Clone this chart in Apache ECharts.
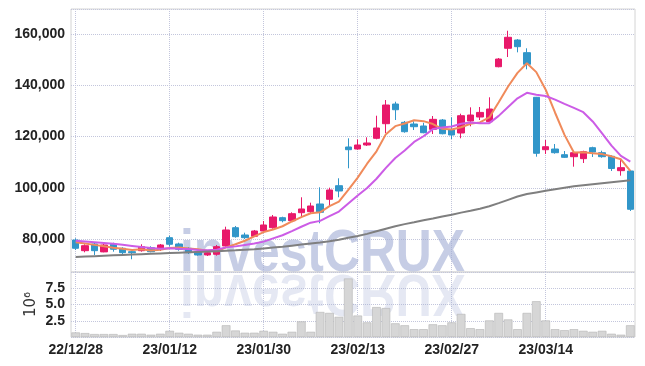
<!DOCTYPE html>
<html>
<head>
<meta charset="utf-8">
<script src="https://cdn.jsdelivr.net/npm/echarts@6/dist/echarts.min.js"></script>
<style>
  html, body { margin: 0; padding: 0; background: #fff; }
  #chart { width: 645px; height: 366px; }
</style>
</head>
<body>
<div id="chart"></div>
<script>
const dates = [
  "22/12/28", "22/12/29", "23/01/02", "23/01/03", "23/01/04", "23/01/05", "23/01/06", "23/01/09", "23/01/10", "23/01/11",
  "23/01/12", "23/01/13", "23/01/16", "23/01/17", "23/01/18", "23/01/19", "23/01/20", "23/01/25", "23/01/26", "23/01/27",
  "23/01/30", "23/01/31", "23/02/01", "23/02/02", "23/02/03", "23/02/06", "23/02/07", "23/02/08", "23/02/09", "23/02/10",
  "23/02/13", "23/02/14", "23/02/15", "23/02/16", "23/02/17", "23/02/20", "23/02/21", "23/02/22", "23/02/23", "23/02/24",
  "23/02/27", "23/02/28", "23/03/02", "23/03/03", "23/03/06", "23/03/07", "23/03/08", "23/03/09", "23/03/10", "23/03/13",
  "23/03/14", "23/03/15", "23/03/16", "23/03/17", "23/03/20", "23/03/21", "23/03/22", "23/03/23", "23/03/24", "23/03/27"
];

const opens = [
  79600, 75430, 78050, 74960, 77930, 76370, 75040, 75430, 76600, 75980,
  80510, 78050, 76370, 75040, 73750, 74020, 77270, 84410, 81560, 81050,
  83120, 84410, 88320, 87150, 90270, 90660, 93670, 95510, 100820, 115940,
  115150, 116720, 119330, 125040, 132730, 125580, 124920, 124140, 122830, 126480,
  122570, 121400, 126090, 127650, 125820, 147300, 154500, 157730, 152790, 135350,
  114880, 115150, 112930, 112150, 111380, 115670, 113710, 112300, 106690, 106560
];
const closes = [
  76370, 77380, 75430, 77660, 75980, 74650, 74650, 77000, 75040, 77660,
  77930, 75980, 74650, 73750, 74650, 77000, 83520, 80900, 80510, 83120,
  85470, 88590, 87150, 89880, 91720, 92890, 90420, 99140, 98750, 114880,
  116720, 117500, 123360, 132340, 130500, 121910, 123860, 121520, 126740, 121130,
  120620, 128160, 128430, 129450, 130780, 150300, 158800, 155130, 148230, 113480,
  116050, 113710, 111900, 113710, 114100, 113950, 112150, 107540, 107860, 91600
];
const lows = [
  75700, 74800, 73750, 74800, 75040, 74020, 72070, 75040, 74800, 75310,
  77000, 75430, 74140, 73480, 73350, 73480, 77000, 80510, 80000, 80900,
  82860, 84020, 86520, 86640, 88480, 89770, 86130, 92620, 96290, 107620,
  114880, 116330, 118940, 121400, 126480, 121520, 122570, 121290, 121010, 120880,
  119060, 119330, 124020, 126480, 124920, 147070, 151090, 152920, 146280, 112150,
  113200, 113330, 111640, 108250, 109690, 112030, 111760, 106560, 104730, 90940
];
const highs = [
  80270, 77930, 78550, 78700, 78550, 76760, 75310, 77930, 77150, 78050,
  81290, 78550, 76760, 75310, 75040, 77660, 84800, 85080, 82460, 83520,
  87030, 89370, 88700, 90420, 96290, 94180, 100190, 100040, 103710, 119330,
  118940, 119720, 128160, 134290, 133630, 126090, 125970, 125400, 128040, 126870,
  127530, 128950, 131440, 131560, 135350, 150700, 161360, 158100, 154500, 135500,
  118670, 117100, 114370, 114490, 114490, 116050, 114490, 112690, 110980, 106950
];

const ma5 = [
  78700, 78200, 77700, 77200, 76560, 76220, 75670, 75990, 75460, 75800,
  76460, 76720, 76250, 75990, 75390, 75210, 76710, 77960, 79320, 81010,
  82700, 83720, 84970, 86840, 88560, 90050, 90410, 92810, 94580, 99220,
  103980, 109400, 114240, 120960, 124080, 125120, 126390, 126030, 124910, 123030,
  122770, 123630, 125020, 125560, 127490, 133420, 139550, 144890, 148650, 145190,
  138340, 129320, 120670, 113770, 113890, 113470, 113160, 112290, 111120, 106620
];
const ma10 = [
  79300, 79000, 78700, 78400, 78100, 77700, 77300, 76900, 76500, 76180,
  76340, 76200, 76120, 75730, 75600, 75830, 76720, 77110, 77660, 78200,
  78960, 80220, 81470, 83080, 84790, 86380, 87070, 88890, 90710, 93890,
  97010, 99910, 103530, 107770, 111650, 114550, 117900, 120130, 122930, 123560,
  123950, 125010, 125520, 125230, 125260, 128100, 131590, 134950, 137100, 136340,
  135880, 134440, 132780, 131210, 129540, 125910, 121240, 116480, 112450, 110260
];
const maLong = [
  73000, 73150, 73300, 73450, 73600, 73750, 73900, 74050, 74200, 74350,
  74500, 74650, 74800, 74950, 75100, 75250, 75400, 75550, 75750, 75950,
  76300, 76650, 77000, 77400, 77800, 78200, 78600, 79100, 79700, 80500,
  81200, 82000, 83000, 84000, 85000, 85800, 86500, 87300, 88000, 88800,
  89500, 90300, 91000, 91800, 92800, 94000, 95300, 96600, 97600, 98200,
  98800, 99400, 100000, 100600, 101000, 101400, 101800, 102200, 102600, 102900
];

const volumes = [
  700000, 600000, 450000, 450000, 450000, 300000, 500000, 500000, 350000, 500000,
  950000, 650000, 500000, 350000, 350000, 800000, 1800000, 1000000, 650000, 650000,
  950000, 800000, 500000, 800000, 2400000, 800000, 3850000, 3700000, 3100000, 9000000,
  3300000, 2250000, 4600000, 4450000, 2100000, 1800000, 1200000, 1200000, 1950000, 1800000,
  2250000, 3550000, 1350000, 1200000, 2550000, 3700000, 2700000, 1200000, 3700000, 5500000,
  2550000, 1200000, 1050000, 1200000, 950000, 800000, 950000, 500000, 350000, 1800000
];

const candles = dates.map((d, i) => [opens[i], closes[i], lows[i], highs[i]]);

const labelFont = '"Liberation Sans Narrow", "Liberation Sans", sans-serif';
const gridLine = { show: true, lineStyle: { type: "dotted", color: "#c3c6dc", width: 1 } };
const catSplit = { ...gridLine, interval: 9, alignWithLabel: true };
const withCommas = (v) => String(Math.round(v)).replace(/\B(?=(\d{3})+(?!\d))/g, ",");

const chart = echarts.init(document.getElementById("chart"));
chart.setOption({
  animation: false,
  backgroundColor: "#fff",
  grid: [
    { left: 71, right: 10, top: 9, height: 263, show: true, borderColor: "#d4d4d4", borderWidth: 1 },
    { left: 71, right: 10, top: 272, height: 65, show: true, borderColor: "#d4d4d4", borderWidth: 1 }
  ],
  xAxis: [
    {
      type: "category", data: dates, gridIndex: 0, boundaryGap: true,
      axisLine: { show: false }, axisTick: { show: false, alignWithLabel: true, interval: 9 },
      axisLabel: { show: false, interval: 9 },
      splitLine: catSplit
    },
    {
      type: "category", data: dates, gridIndex: 1, boundaryGap: true,
      axisLine: { show: false }, axisTick: { show: false, alignWithLabel: true, interval: 9 },
      axisLabel: { interval: 9, color: "#222", fontFamily: labelFont, fontWeight: "bold", fontSize: 14, margin: 6 },
      splitLine: catSplit
    }
  ],
  yAxis: [
    {
      type: "value", gridIndex: 0, min: 67100, max: 169850, splitNumber: 5,
      axisLine: { show: false }, axisTick: { show: false },
      axisLabel: {
        showMinLabel: false, showMaxLabel: false, color: "#222", fontFamily: labelFont,
        fontWeight: "bold", fontSize: 14, margin: 6, formatter: withCommas
      },
      splitLine: gridLine
    },
    {
      type: "value", gridIndex: 1, min: 0, max: 10000000, interval: 2500000,
      name: "10⁶", nameLocation: "middle", nameRotate: 90, nameGap: 32, nameMoveOverlap: false,
      nameTextStyle: { color: "#333", fontFamily: "DejaVu Sans", fontSize: 15 },
      axisLine: { show: false }, axisTick: { show: false },
      axisLabel: {
        showMinLabel: false, showMaxLabel: false, color: "#222", fontFamily: labelFont,
        fontWeight: "bold", fontSize: 14, margin: 6,
        formatter: (v) => (v / 1000000).toFixed(1)
      },
      splitLine: gridLine
    }
  ],
  graphic: [
    {
      type: "text", x: 180, y: 284, z: 1, scaleX: 0.83,
      style: {
        text: "investCRUX", font: 'bold 60px "Liberation Sans"',
        fill: "rgba(160, 172, 212, 0.6)", verticalAlign: "bottom"
      }
    },
    {
      type: "text", x: 180, y: 262, z: 1, scaleX: 0.83, scaleY: -1,
      style: {
        text: "investCRUX", font: 'bold 60px "Liberation Sans"',
        fill: "rgba(160, 172, 212, 0.28)", verticalAlign: "bottom"
      }
    }
  ],
  series: [
    {
      name: "Price", type: "candlestick", xAxisIndex: 0, yAxisIndex: 0,
      data: candles, barWidth: 7,
      itemStyle: { color: "#e8196a", color0: "#3196c9", borderColor: "#e8196a", borderColor0: "#3196c9", borderWidth: 1 }
    },
    {
      name: "MA5", type: "line", xAxisIndex: 0, yAxisIndex: 0, data: ma5,
      symbol: "none", lineStyle: { color: "#f08a5a", width: 2 }
    },
    {
      name: "MA10", type: "line", xAxisIndex: 0, yAxisIndex: 0, data: ma10,
      symbol: "none", lineStyle: { color: "#cc5ce6", width: 2 }
    },
    {
      name: "MA60", type: "line", xAxisIndex: 0, yAxisIndex: 0, data: maLong,
      symbol: "none", lineStyle: { color: "#7f7f7f", width: 2 }
    },
    {
      name: "Volume", type: "bar", xAxisIndex: 1, yAxisIndex: 1, data: volumes,
      barCategoryGap: "8%",
      itemStyle: { color: "#d6d6d6", borderColor: "#b4b4b4", borderWidth: 0.6 }
    }
  ]
});
</script>
</body>
</html>
